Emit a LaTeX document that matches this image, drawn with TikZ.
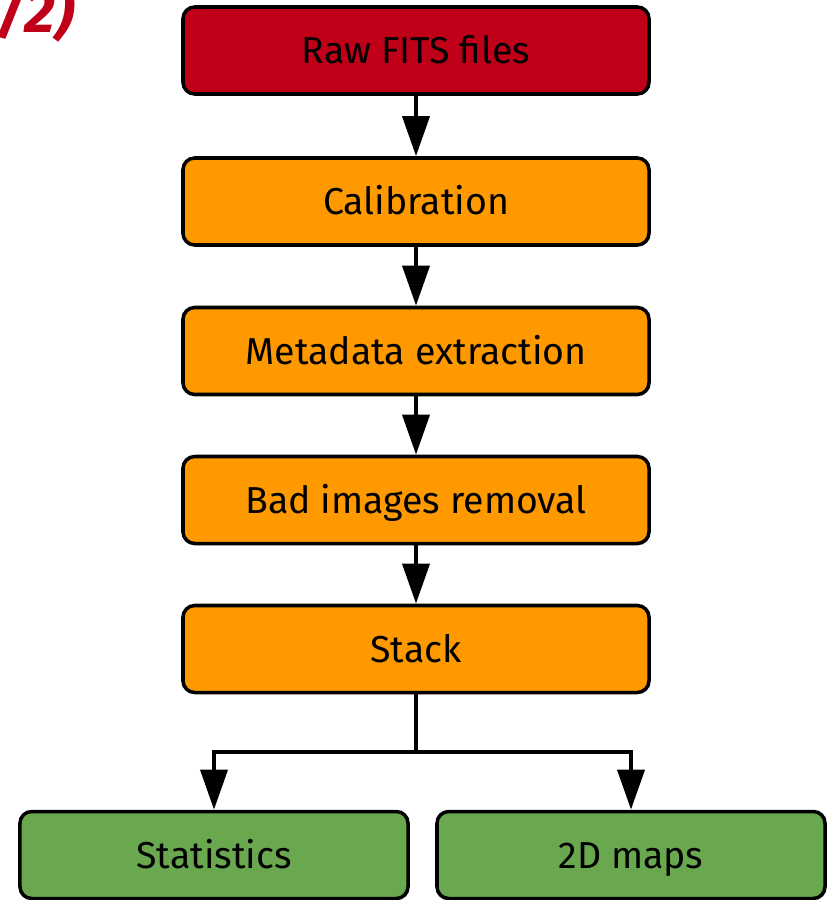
\documentclass[tikz,border=0pt]{standalone}
\usepackage{fontspec}
\setmainfont{Fira Sans}
\usetikzlibrary{arrows.meta}

\definecolor{rawred}{HTML}{C00018}
\definecolor{steporange}{HTML}{FF9900}
\definecolor{outgreen}{HTML}{6AA84F}

\begin{document}
\begin{tikzpicture}[
    x=0.03cm, y=-0.03cm,
    box/.style={draw=black, line width=3pt, rounded corners=10pt, text=black,
                font=\fontsize{32}{38}\selectfont, inner sep=0pt,
                text height=28.8pt, text depth=6.4pt,
                minimum width=13.98cm, minimum height=2.61cm},
    outbox/.style={box, fill=outgreen, minimum width=11.64cm},
    arr/.style={line width=4pt, -{Triangle[length=1.2cm, width=0.8cm]}},
  ]

  % ---------------- page size, in pixels of the reference -----------------
  \useasboundingbox (0,0) rectangle (829,900);

  % ---------------- part number, cut by the page edge ---------------------
  \node[anchor=base west, text=rawred, inner sep=0pt,
        font=\fontsize{52}{58}\selectfont\bfseries\itshape] (part) at (-4,33) {/2)};

  % ---------------- the pipeline steps ------------------------------------
  \node[box, fill=rawred]     (raw)   at (416,50.5) {Raw FITS files};
  \node[box, fill=steporange] (calib) at (416,201.5) {Calibration};
  \node[box, fill=steporange] (meta)  at (416,351)   {Metadata extraction};
  \node[box, fill=steporange] (bad)   at (416,500)   {Bad images removal};
  \node[box, fill=steporange] (stack) at (416,649)   {Stack};

  % ---------------- the outputs -------------------------------------------
  \node[outbox] (stats) at (214,855) {Statistics};
  \node[outbox] (maps)  at (631,855) {2D maps};

  % ---------------- connectors --------------------------------------------
  \draw[arr] (raw)   -- (calib);
  \draw[arr] (calib) -- (meta);
  \draw[arr] (meta)  -- (bad);
  \draw[arr] (bad)   -- (stack);

  \coordinate (split) at (416,752);
  \draw[line width=4pt] (stack.south) -- (split);
  \draw[arr] (split) -| (stats.north);
  \draw[arr] (split) -| (maps.north);

\end{tikzpicture}
\end{document}
